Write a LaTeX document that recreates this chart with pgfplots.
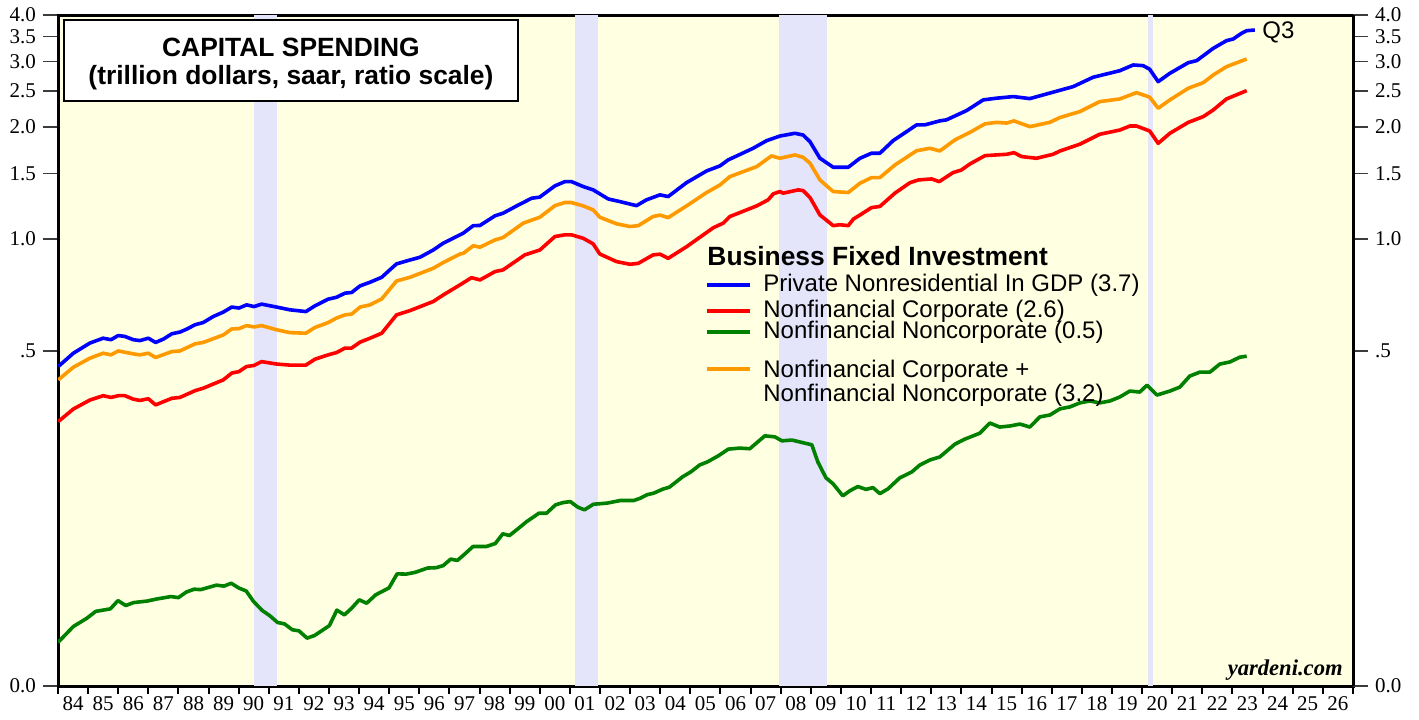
\documentclass[border=0pt]{standalone}
\usepackage{pgfplots}
\pgfplotsset{compat=1.18}
\usepackage{fontspec}
\setmainfont{Liberation Sans}
\newfontfamily\serifnum{Liberation Serif}
\definecolor{bgy}{RGB}{255,255,225}
\definecolor{band}{RGB}{228,228,250}
\definecolor{lgreen}{RGB}{0,128,0}
\definecolor{lorange}{RGB}{255,153,0}
\definecolor{tickgray}{RGB}{60,60,60}
\begin{document}
\begin{tikzpicture}
\path[use as bounding box] (-29pt,-16.5pt) rectangle (680.5pt,343pt);
\begin{axis}[
  at={(0,0)}, anchor=south west, scale only axis,
  width=647.5pt, height=335.5pt,
  xmin=1984, xmax=2027, ymode=log, ymin=0.06283, ymax=4,
  axis background/.style={fill=bgy},
  axis line style={line width=1.5pt},
  tick align=outside,
  major tick length=7.5pt,
  xtick={1984,...,2027},
  xticklabels={84,85,86,87,88,89,90,91,92,93,94,95,96,97,98,99,00,01,02,03,04,05,06,07,08,09,10,11,12,13,14,15,16,17,18,19,20,21,22,23,24,25,26,},
  xtick pos=bottom,
  xtick style={/pgfplots/major tick length=4pt, line width=1pt, black},
  x tick label style={xshift=7.53pt, yshift=5.5pt, font=\serifnum\fontsize{10.5}{12}\selectfont},
  ytick={0.06283,0.5,1,1.5,2,2.5,3,3.5,4},
  yticklabels={0.0,.5,1.0,1.5,2.0,2.5,3.0,3.5,4.0},
  ytick pos=left,
  ytick style={line width=0.6pt, tickgray},
  y tick label style={font=\serifnum\fontsize{10.5}{12}\selectfont},
  clip=true,
]
\fill[band] (axis cs:1990.5,0.06283) rectangle (axis cs:1991.27,4);
\fill[band] (axis cs:2001.18,0.06283) rectangle (axis cs:2001.93,4);
\fill[band] (axis cs:2007.95,0.06283) rectangle (axis cs:2009.53,4);
\fill[band] (axis cs:2020.18,0.06283) rectangle (axis cs:2020.35,4);

\addplot[lgreen, line width=1.8pt, line join=round] coordinates {
(1984.00,0.0823)(1984.51,0.0908)(1984.96,0.0956)(1985.25,0.0997)(1985.74,0.1013)(1985.99,0.1066)(1986.25,0.1034)(1986.51,0.1053)(1986.96,0.1063)(1987.26,0.1076)(1987.75,0.1093)(1988.00,0.1086)(1988.26,0.1124)(1988.52,0.1144)(1988.74,0.1141)(1989.26,0.1173)(1989.51,0.1166)(1989.75,0.1187)(1990.00,0.1153)(1990.25,0.1131)(1990.49,0.1061)(1990.78,0.1003)(1991.04,0.0970)(1991.29,0.0931)(1991.52,0.0923)(1991.78,0.0890)(1992.00,0.0884)(1992.27,0.0845)(1992.52,0.0859)(1993.01,0.0913)(1993.26,0.1005)(1993.51,0.0976)(1993.75,0.1017)(1994.00,0.1071)(1994.25,0.1049)(1994.55,0.1105)(1994.99,0.1153)(1995.26,0.1258)(1995.56,0.1256)(1995.85,0.1269)(1996.27,0.1304)(1996.56,0.1307)(1996.79,0.1324)(1997.04,0.1378)(1997.26,0.1367)(1997.48,0.1416)(1997.78,0.1490)(1998.22,0.1490)(1998.52,0.1518)(1998.77,0.1612)(1998.99,0.1595)(1999.26,0.1660)(1999.56,0.1738)(1999.97,0.1831)(2000.22,0.1831)(2000.52,0.1928)(2000.77,0.1956)(2001.01,0.1968)(2001.26,0.1901)(2001.48,0.1870)(2001.78,0.1936)(2002.23,0.1949)(2002.67,0.1981)(2003.12,0.1981)(2003.34,0.2010)(2003.56,0.2053)(2003.78,0.2073)(2004.08,0.2125)(2004.30,0.2151)(2004.75,0.2297)(2005.01,0.2364)(2005.31,0.2469)(2005.56,0.2515)(2005.93,0.2613)(2006.26,0.2723)(2006.64,0.2740)(2006.97,0.2729)(2007.47,0.2956)(2007.80,0.2938)(2008.04,0.2866)(2008.37,0.2880)(2008.80,0.2825)(2009.03,0.2797)(2009.23,0.2515)(2009.50,0.2279)(2009.73,0.2199)(2010.06,0.2039)(2010.29,0.2103)(2010.56,0.2160)(2010.83,0.2122)(2011.06,0.2146)(2011.29,0.2067)(2011.56,0.2129)(2011.95,0.2279)(2012.35,0.2364)(2012.62,0.2469)(2012.95,0.2546)(2013.28,0.2594)(2013.78,0.2807)(2014.11,0.2896)(2014.61,0.3005)(2014.94,0.3200)(2015.27,0.3121)(2015.61,0.3142)(2015.94,0.3180)(2016.27,0.3121)(2016.60,0.3324)(2016.94,0.3364)(2017.27,0.3494)(2017.60,0.3536)(2017.93,0.3625)(2018.26,0.3669)(2018.59,0.3625)(2018.93,0.3669)(2019.26,0.3761)(2019.59,0.3901)(2019.92,0.3877)(2020.16,0.4046)(2020.49,0.3805)(2020.92,0.3901)(2021.25,0.3997)(2021.58,0.4280)(2021.92,0.4387)(2022.25,0.4387)(2022.58,0.4610)(2022.91,0.4670)(2023.24,0.4810)(2023.47,0.4840)
};
\addplot[red, line width=1.8pt, line join=round] coordinates {
(1984.01,0.323)(1984.51,0.349)(1985.06,0.369)(1985.50,0.379)(1985.76,0.375)(1986.00,0.379)(1986.22,0.379)(1986.50,0.371)(1986.72,0.368)(1987.00,0.372)(1987.24,0.358)(1987.78,0.373)(1988.05,0.375)(1988.55,0.391)(1988.82,0.397)(1989.49,0.418)(1989.77,0.436)(1990.01,0.440)(1990.26,0.454)(1990.51,0.457)(1990.76,0.468)(1991.26,0.461)(1991.70,0.458)(1992.23,0.458)(1992.53,0.475)(1992.97,0.488)(1993.25,0.495)(1993.53,0.509)(1993.75,0.509)(1994.03,0.528)(1994.36,0.541)(1994.75,0.558)(1995.24,0.625)(1995.69,0.642)(1996.46,0.679)(1996.79,0.707)(1997.35,0.753)(1997.73,0.787)(1998.01,0.776)(1998.51,0.817)(1998.78,0.826)(1999.50,0.906)(2000.00,0.934)(2000.50,1.015)(2000.83,1.026)(2001.05,1.026)(2001.44,1.004)(2001.77,0.970)(2001.99,0.911)(2002.55,0.869)(2002.99,0.855)(2003.27,0.860)(2003.76,0.906)(2003.99,0.910)(2004.26,0.887)(2004.87,0.953)(2005.76,1.072)(2006.09,1.103)(2006.31,1.149)(2007.20,1.227)(2007.58,1.274)(2007.75,1.322)(2007.97,1.341)(2008.08,1.328)(2008.58,1.355)(2008.74,1.349)(2008.97,1.292)(2009.30,1.160)(2009.74,1.086)(2009.96,1.092)(2010.24,1.086)(2010.41,1.131)(2010.63,1.160)(2011.01,1.214)(2011.29,1.223)(2011.79,1.328)(2012.29,1.417)(2012.57,1.441)(2013.01,1.450)(2013.26,1.426)(2013.72,1.508)(2014.00,1.533)(2014.28,1.591)(2014.78,1.675)(2015.50,1.689)(2015.74,1.706)(2016.00,1.665)(2016.49,1.648)(2017.04,1.689)(2017.27,1.724)(2017.93,1.798)(2018.59,1.912)(2019.26,1.963)(2019.59,2.012)(2019.81,2.012)(2020.25,1.951)(2020.53,1.808)(2020.92,1.924)(2021.53,2.058)(2022.03,2.133)(2022.36,2.223)(2022.80,2.379)(2023.47,2.505)
};
\addplot[lorange, line width=1.8pt, line join=round] coordinates {
(1984.01,0.418)(1984.51,0.452)(1985.06,0.478)(1985.50,0.493)(1985.76,0.488)(1986.00,0.500)(1986.50,0.491)(1986.72,0.488)(1987.00,0.493)(1987.24,0.480)(1987.78,0.498)(1988.05,0.500)(1988.55,0.5225)(1988.82,0.527)(1989.49,0.552)(1989.77,0.573)(1990.01,0.574)(1990.26,0.585)(1990.51,0.580)(1990.76,0.585)(1991.26,0.570)(1991.70,0.560)(1992.23,0.558)(1992.53,0.578)(1992.97,0.596)(1993.25,0.613)(1993.53,0.625)(1993.75,0.628)(1994.03,0.656)(1994.36,0.665)(1994.75,0.690)(1995.24,0.771)(1995.69,0.789)(1996.46,0.834)(1996.79,0.864)(1997.35,0.911)(1997.46,0.915)(1997.79,0.959)(1998.01,0.950)(1998.51,0.994)(1998.78,1.009)(1999.45,1.103)(2000.00,1.144)(2000.50,1.229)(2000.83,1.253)(2001.05,1.253)(2001.44,1.227)(2001.77,1.197)(2001.99,1.144)(2002.55,1.098)(2002.99,1.080)(2003.27,1.086)(2003.76,1.149)(2003.99,1.159)(2004.26,1.141)(2004.87,1.227)(2005.54,1.333)(2005.98,1.397)(2006.31,1.471)(2007.20,1.565)(2007.69,1.672)(2007.97,1.648)(2008.47,1.682)(2008.74,1.658)(2008.97,1.598)(2009.30,1.441)(2009.74,1.341)(2010.24,1.333)(2010.63,1.412)(2011.01,1.462)(2011.29,1.462)(2011.79,1.581)(2012.51,1.727)(2012.95,1.753)(2013.28,1.724)(2013.78,1.846)(2014.28,1.935)(2014.78,2.039)(2015.16,2.058)(2015.50,2.049)(2015.74,2.077)(2016.27,2.004)(2016.93,2.058)(2017.27,2.121)(2017.93,2.200)(2018.59,2.340)(2019.26,2.379)(2019.81,2.474)(2020.25,2.405)(2020.53,2.246)(2020.92,2.365)(2021.53,2.542)(2022.03,2.632)(2022.36,2.760)(2022.80,2.905)(2023.47,3.047)
};
\addplot[blue, line width=1.8pt, line join=round] coordinates {
(1984.01,0.454)(1984.51,0.493)(1985.06,0.525)(1985.50,0.541)(1985.76,0.536)(1986.00,0.550)(1986.22,0.547)(1986.50,0.536)(1986.72,0.533)(1987.00,0.541)(1987.24,0.527)(1987.50,0.538)(1987.78,0.556)(1988.05,0.562)(1988.27,0.572)(1988.55,0.588)(1988.82,0.596)(1989.16,0.619)(1989.49,0.636)(1989.77,0.656)(1990.01,0.652)(1990.26,0.665)(1990.51,0.658)(1990.76,0.668)(1991.26,0.656)(1991.70,0.645)(1992.23,0.638)(1992.53,0.661)(1992.97,0.689)(1993.25,0.697)(1993.53,0.715)(1993.75,0.718)(1994.03,0.748)(1994.36,0.765)(1994.75,0.789)(1995.02,0.826)(1995.24,0.857)(1995.69,0.878)(1996.02,0.893)(1996.46,0.934)(1996.79,0.974)(1997.35,1.026)(1997.46,1.037)(1997.79,1.086)(1998.01,1.087)(1998.51,1.154)(1998.78,1.173)(1999.23,1.227)(1999.73,1.287)(1999.99,1.295)(2000.50,1.389)(2000.83,1.426)(2001.05,1.426)(2001.44,1.383)(2001.77,1.355)(2002.27,1.281)(2002.66,1.260)(2003.21,1.229)(2003.54,1.274)(2003.99,1.314)(2004.26,1.300)(2004.87,1.417)(2005.54,1.524)(2005.98,1.572)(2006.25,1.631)(2007.08,1.753)(2007.53,1.838)(2007.97,1.891)(2008.47,1.924)(2008.74,1.903)(2008.97,1.826)(2009.30,1.648)(2009.74,1.559)(2010.24,1.559)(2010.63,1.648)(2011.01,1.700)(2011.29,1.700)(2011.73,1.838)(2012.51,2.026)(2012.78,2.026)(2013.28,2.077)(2013.50,2.090)(2014.17,2.214)(2014.72,2.365)(2015.16,2.390)(2015.72,2.414)(2016.27,2.384)(2016.83,2.454)(2017.71,2.568)(2018.37,2.721)(2019.26,2.834)(2019.70,2.936)(2020.03,2.924)(2020.25,2.859)(2020.53,2.648)(2020.92,2.789)(2021.53,2.978)(2021.81,3.016)(2022.36,3.255)(2022.80,3.413)(2023.02,3.448)(2023.30,3.572)(2023.47,3.630)(2023.74,3.646)
};

% title box
\draw[line width=1pt, fill=white] (rel axis cs:0.0046,0.8718) rectangle (rel axis cs:0.3552,0.9925);
\node[align=center, font=\bfseries\fontsize{13.2}{14}\selectfont] at (rel axis cs:0.1799,0.9275) {CAPITAL SPENDING\\(trillion dollars, saar, ratio scale)};

% legend
\node[anchor=west, inner sep=0pt, font=\bfseries\fontsize{13.2}{15}\selectfont] at (rel axis cs:0.5012,0.6408) {Business Fixed Investment};
\draw[blue, line width=1.8pt] (rel axis cs:0.5012,0.5976) -- (rel axis cs:0.5344,0.5976);
\node[anchor=west, inner sep=0pt, font=\fontsize{12}{14}\selectfont] at (rel axis cs:0.5444,0.5976) {Private Nonresidential In GDP (3.7)};
\draw[red, line width=1.8pt] (rel axis cs:0.5012,0.5588) -- (rel axis cs:0.5344,0.5588);
\node[anchor=west, inner sep=0pt, font=\fontsize{12}{14}\selectfont] at (rel axis cs:0.5444,0.5588) {Nonfinancial Corporate (2.6)};
\draw[lgreen, line width=1.8pt] (rel axis cs:0.5012,0.5276) -- (rel axis cs:0.5344,0.5276);
\node[anchor=west, inner sep=0pt, font=\fontsize{12}{14}\selectfont] at (rel axis cs:0.5444,0.5276) {Nonfinancial Noncorporate (0.5)};
\draw[lorange, line width=1.8pt] (rel axis cs:0.5012,0.4724) -- (rel axis cs:0.5344,0.4724);
\node[anchor=west, inner sep=0pt, font=\fontsize{12}{14}\selectfont] at (rel axis cs:0.5444,0.4694) {Nonfinancial Corporate +};
\node[anchor=west, inner sep=0pt, font=\fontsize{12}{14}\selectfont] at (rel axis cs:0.5444,0.4337) {Nonfinancial Noncorporate (3.2)};

\node[anchor=west, inner sep=0pt, font=\fontsize{12}{14}\selectfont] at (rel axis cs:0.9297,0.9746) {Q3};
\node[anchor=east, inner sep=0pt, font=\serifnum\bfseries\itshape\fontsize{11.3}{13}\selectfont] at (rel axis cs:0.9923,0.0238) {yardeni.com};
\end{axis}
\begin{axis}[
  at={(0,0)}, anchor=south west, scale only axis,
  width=647.5pt, height=335.5pt,
  xmin=1984, xmax=2027, ymode=log, ymin=0.06283, ymax=4,
  hide x axis,
  axis y line*=right,
  y axis line style={line width=1.5pt},
  tick align=outside,
  major tick length=7.5pt,
  ytick={0.06283,0.5,1,1.5,2,2.5,3,3.5,4},
  yticklabels={0.0,.5,1.0,1.5,2.0,2.5,3.0,3.5,4.0},
  ytick style={line width=0.6pt, tickgray},
  y tick label style={font=\serifnum\fontsize{10.5}{12}\selectfont},
]
\addplot[draw=none] coordinates {(2000,1)};
\end{axis}
\end{tikzpicture}
\end{document}
